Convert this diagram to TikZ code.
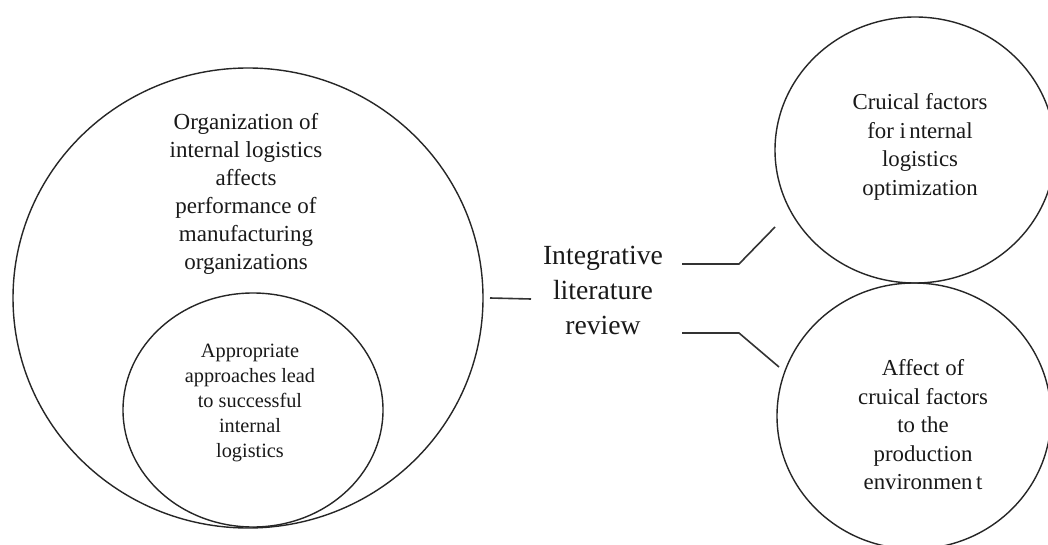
\documentclass[tikz,border=0pt]{standalone}
\usepackage{fontspec}
\setmainfont{Liberation Serif}
\usetikzlibrary{shapes.geometric}
\begin{document}
\begin{tikzpicture}[x=1pt,y=-1pt,
  ring/.style={draw=black!85, line width=1.4pt, ellipse, inner sep=0pt, outer sep=0pt},
  conn/.style={draw=black!80, line width=1.6pt},
  txt/.style={align=center, text=black!90, inner sep=0pt},
  bigtxt/.style={txt, font=\fontsize{23}{28}\selectfont},
  smalltxt/.style={txt, font=\fontsize{20.3}{25}\selectfont},
  sidetxt/.style={txt, font=\fontsize{22.8}{28.5}\selectfont},
  midtxt/.style={txt, font=\fontsize{27.7}{35}\selectfont}]
\clip (0,0) rectangle (1048,545);
\fill[white] (0,0) rectangle (1048,545);

% circles
\node[ring, minimum width=470pt, minimum height=460pt] (outer) at (248,298) {};
\node[ring, minimum width=260pt, minimum height=234pt] (inner) at (253,410) {};
\node[ring, minimum width=280pt, minimum height=266pt] (factors) at (915,150) {};
\node[ring, minimum width=274pt, minimum height=266pt] (impact) at (914,416) {};

% labels
\node[bigtxt] (orgtext) at (246,194) {Organization of\\internal logistics\\affects\\performance of\\manufacturing\\organizations};
\node[smalltxt] (apptext) at (250,403) {Appropriate\\approaches lead\\to successful\\internal\\logistics};
\node[midtxt] (review) at (603,290) {Integrative\\literature\\review};
\node[sidetxt] (factext) at (920,147) {Cruical factors\\for i\hspace{0.15em}nternal\\logistics\\optimization};
\node[sidetxt] (imptext) at (923,425) {Affect of\\cruical factors\\to the\\production\\environmen\hspace{0.15em}t};

% connectors
\coordinate (c1) at ([xshift=7pt]outer.east);
\coordinate (c2) at (531,299);
\coordinate (a1) at (682,264);
\coordinate (a2) at (739,264);
\coordinate (a3) at (775,227);
\coordinate (b1) at (682,333);
\coordinate (b2) at (739,333);
\coordinate (b3) at (779,367);
\draw[conn] (c1) -- (c2);
\draw[conn] (a1) -- (a2) -- (a3);
\draw[conn] (b1) -- (b2) -- (b3);
\end{tikzpicture}
\end{document}
